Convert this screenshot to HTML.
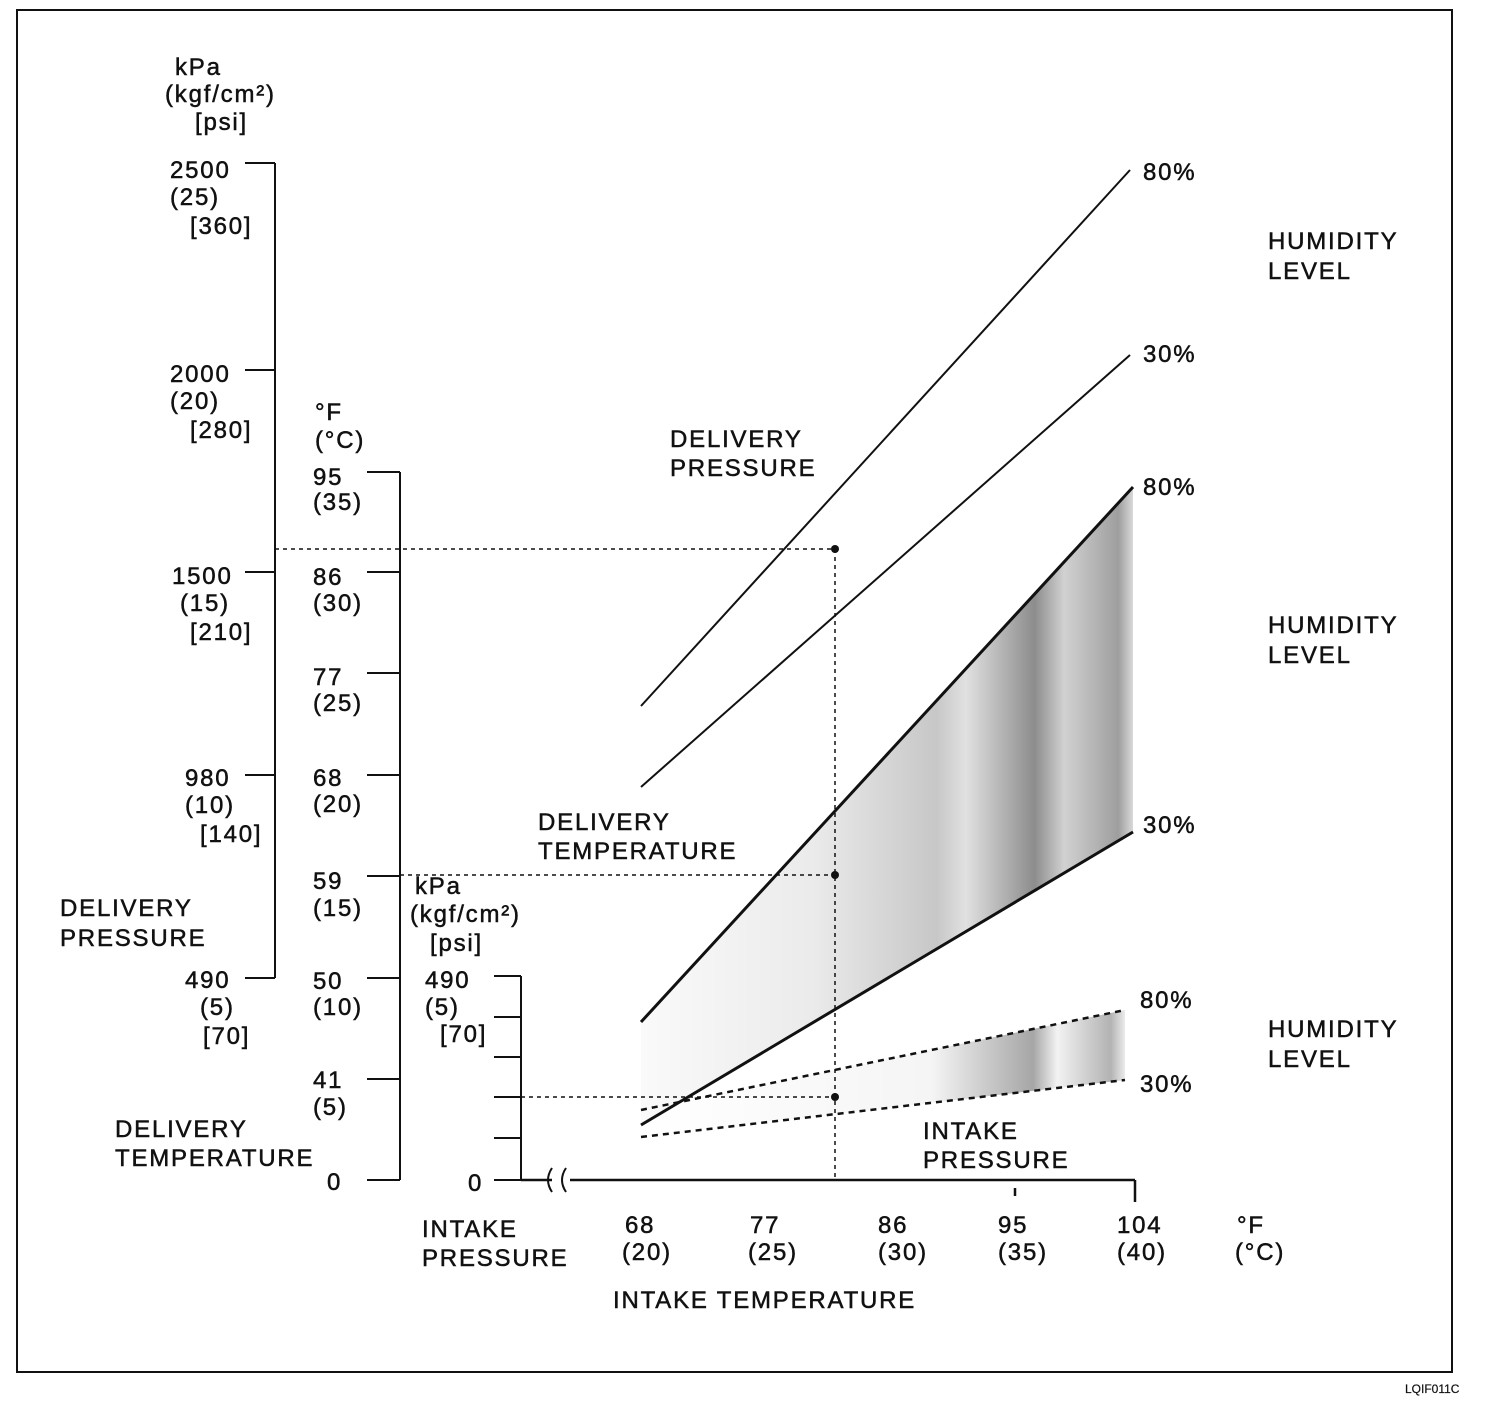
<!DOCTYPE html>
<html><head><meta charset="utf-8"><style>
body{margin:0;background:#fff}
svg text{font-family:"Liberation Sans",sans-serif;font-size:24px;letter-spacing:1.8px;fill:#111;stroke:#111;stroke-width:0.5}
</style></head><body>
<svg width="1504" height="1418" viewBox="0 0 1504 1418" xmlns="http://www.w3.org/2000/svg">
<defs>
<linearGradient id="g1" x1="641" y1="0" x2="1133" y2="0" gradientUnits="userSpaceOnUse">
<stop offset="0" stop-color="#000" stop-opacity="0.02"/>
<stop offset="0.35" stop-color="#000" stop-opacity="0.08"/>
<stop offset="0.6" stop-color="#000" stop-opacity="0.22"/>
<stop offset="0.66" stop-color="#000" stop-opacity="0.12"/>
<stop offset="0.8" stop-color="#000" stop-opacity="0.45"/>
<stop offset="0.86" stop-color="#000" stop-opacity="0.18"/>
<stop offset="0.97" stop-color="#000" stop-opacity="0.38"/>
<stop offset="1" stop-color="#000" stop-opacity="0.15"/>
</linearGradient>
<linearGradient id="g2" x1="641" y1="0" x2="1125" y2="0" gradientUnits="userSpaceOnUse">
<stop offset="0" stop-color="#000" stop-opacity="0"/>
<stop offset="0.6" stop-color="#000" stop-opacity="0.04"/>
<stop offset="0.81" stop-color="#000" stop-opacity="0.35"/>
<stop offset="0.86" stop-color="#000" stop-opacity="0.05"/>
<stop offset="0.97" stop-color="#000" stop-opacity="0.3"/>
<stop offset="1" stop-color="#000" stop-opacity="0.08"/>
</linearGradient>
</defs>
<rect x="17" y="10" width="1435" height="1362" fill="none" stroke="#111" stroke-width="2"/>
<text x="1405" y="1393" style="font-size:12px;letter-spacing:0;stroke-width:0.2">LQIF011C</text>

<polygon points="641,1022 1133,487 1133,832 641,1125" fill="url(#g1)"/>
<polygon points="641,1110 1125,1010 1125,1080 641,1137" fill="url(#g2)"/>

<g stroke="#111" fill="none">
<path d="M275 163V978M245 163H275M245 370H275M245 572H275M245 775H275M245 978H275" stroke-width="2"/>
<path d="M400 472V1180M367 472H400M367 572H400M367 673H400M367 775H400M367 876H400M367 978H400M367 1079H400M367 1180H400" stroke-width="2"/>
<path d="M521 976V1180M494 976H521M494 1017H521M494 1057H521M494 1097H521M494 1138H521M494 1180H521" stroke-width="2"/>
<path d="M521 1180H552M570 1180H1135M1135 1180V1202M1015 1188V1196" stroke-width="2.5"/>
<path d="M552 1168q-8 12 0 24M566 1168q-8 12 0 24" stroke-width="2"/>
<path d="M641 706L1130 170M641 787L1130 355" stroke-width="2"/>
<path d="M641 1022L1133 487M641 1125L1133 832" stroke-width="3"/>
<path d="M641 1110L1125 1010M641 1137L1125 1080" stroke-width="2.5" stroke-dasharray="6,5"/>
<path d="M275 549H835V1180M400 875H835M521 1097H835" stroke-width="1.5" stroke-dasharray="4,4"/>
</g>
<g fill="#111"><circle cx="835" cy="549" r="4"/><circle cx="835" cy="875" r="4"/><circle cx="835" cy="1097" r="4"/></g>

<text x="175" y="75">kPa</text><text x="165" y="102">(kgf/cm²)</text><text x="195" y="130">[psi]</text>
<text x="170" y="178">2500</text><text x="170" y="205">(25)</text><text x="190" y="234">[360]</text>
<text x="170" y="382">2000</text><text x="170" y="409">(20)</text><text x="190" y="438">[280]</text>
<text x="172" y="584">1500</text><text x="180" y="611">(15)</text><text x="190" y="640">[210]</text>
<text x="185" y="786">980</text><text x="185" y="813">(10)</text><text x="200" y="842">[140]</text>
<text x="185" y="988">490</text><text x="200" y="1015">(5)</text><text x="203" y="1044">[70]</text>
<text x="60" y="916">DELIVERY</text><text x="60" y="946">PRESSURE</text>
<text x="115" y="1137">DELIVERY</text><text x="115" y="1166">TEMPERATURE</text>

<text x="315" y="420">°F</text><text x="315" y="448">(°C)</text>
<text x="313" y="485">95</text><text x="313" y="510">(35)</text>
<text x="313" y="585">86</text><text x="313" y="611">(30)</text>
<text x="313" y="685">77</text><text x="313" y="711">(25)</text>
<text x="313" y="786">68</text><text x="313" y="812">(20)</text>
<text x="313" y="889">59</text><text x="313" y="916">(15)</text>
<text x="313" y="989">50</text><text x="313" y="1015">(10)</text>
<text x="313" y="1088">41</text><text x="313" y="1115">(5)</text>
<text x="327" y="1190">0</text>

<text x="415" y="894">kPa</text><text x="410" y="922">(kgf/cm²)</text><text x="430" y="951">[psi]</text>
<text x="425" y="988">490</text><text x="425" y="1015">(5)</text><text x="440" y="1042">[70]</text>
<text x="468" y="1191">0</text>

<text x="422" y="1237">INTAKE</text><text x="422" y="1266">PRESSURE</text>
<text x="625" y="1233">68</text><text x="622" y="1260">(20)</text>
<text x="750" y="1233">77</text><text x="748" y="1260">(25)</text>
<text x="878" y="1233">86</text><text x="878" y="1260">(30)</text>
<text x="998" y="1233">95</text><text x="998" y="1260">(35)</text>
<text x="1117" y="1233">104</text><text x="1117" y="1260">(40)</text>
<text x="1237" y="1233">°F</text><text x="1235" y="1260">(°C)</text>
<text x="613" y="1308">INTAKE TEMPERATURE</text>

<text x="670" y="447">DELIVERY</text><text x="670" y="476">PRESSURE</text>
<text x="538" y="830">DELIVERY</text><text x="538" y="859">TEMPERATURE</text>
<text x="923" y="1139">INTAKE</text><text x="923" y="1168">PRESSURE</text>

<text x="1143" y="180">80%</text><text x="1143" y="362">30%</text>
<text x="1143" y="495">80%</text><text x="1143" y="833">30%</text>
<text x="1140" y="1008">80%</text><text x="1140" y="1092">30%</text>

<text x="1268" y="249">HUMIDITY</text><text x="1268" y="279">LEVEL</text>
<text x="1268" y="633">HUMIDITY</text><text x="1268" y="663">LEVEL</text>
<text x="1268" y="1037">HUMIDITY</text><text x="1268" y="1067">LEVEL</text>
</svg>
</body></html>
